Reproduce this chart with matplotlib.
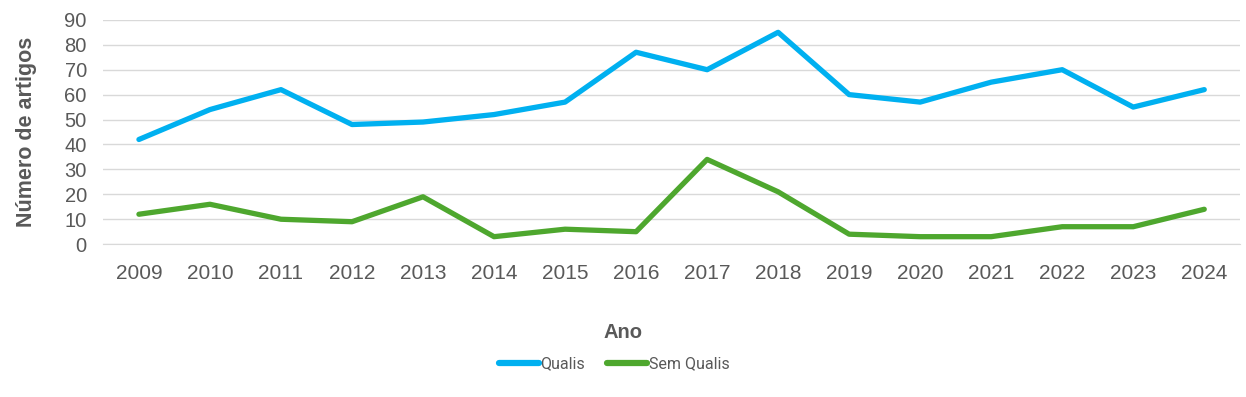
import matplotlib
matplotlib.use("Agg")
import matplotlib.pyplot as plt

plt.rcParams["font.family"] = ["Liberation Sans", "DejaVu Sans"]

anos = [2009, 2010, 2011, 2012, 2013, 2014, 2015, 2016,
        2017, 2018, 2019, 2020, 2021, 2022, 2023, 2024]
qualis = [42, 54, 62, 48, 49, 52, 57, 77, 70, 85, 60, 57, 65, 70, 55, 62]
sem_qualis = [12, 16, 10, 9, 19, 3, 6, 5, 34, 21, 4, 3, 3, 7, 7, 14]

cinza = "#595959"

fig = plt.figure(figsize=(12.46, 3.97), dpi=100)
ax = fig.add_axes([0.083, 0.385, 0.912, 0.565])

ax.plot(anos, qualis, color="#00B0F0", linewidth=3.8, solid_capstyle="round", label="Qualis")
ax.plot(anos, sem_qualis, color="#4EA72E", linewidth=3.8, solid_capstyle="round", label="Sem Qualis")

ax.set_xlim(2008.5, 2024.5)
ax.set_ylim(0, 90)
ax.set_yticks(range(0, 91, 10))
ax.set_xticks(anos)
ax.set_xticklabels([str(a) for a in anos])
ax.grid(axis="y", color="#D9D9D9", linewidth=1)
ax.set_axisbelow(True)
for s in ax.spines.values():
    s.set_visible(False)
ax.spines["bottom"].set_visible(True)
ax.spines["bottom"].set_color("#D9D9D9")
ax.tick_params(length=0, colors=cinza)
ax.tick_params(axis="x", labelsize=15, pad=14)
ax.tick_params(axis="y", labelsize=14.5, pad=12)

ax.set_ylabel("Número de artigos", fontsize=15.5, fontweight="bold", color=cinza, labelpad=20)
fig.text(0.5, 1 - 333 / 397, "Ano", ha="center", va="center", fontsize=14.5,
         fontweight="bold", color=cinza)

leg = fig.legend(loc="center", bbox_to_anchor=(0.493, 1 - 364 / 397), ncol=2, frameon=False,
                 prop={"family": "Roboto", "size": 11.5}, handlelength=2.5, handletextpad=0.1,
                 columnspacing=1.4)
for t in leg.get_texts():
    t.set_color(cinza)
for h in leg.get_lines():
    h.set_linewidth(4.5)

fig.savefig("out.png", dpi=100)
